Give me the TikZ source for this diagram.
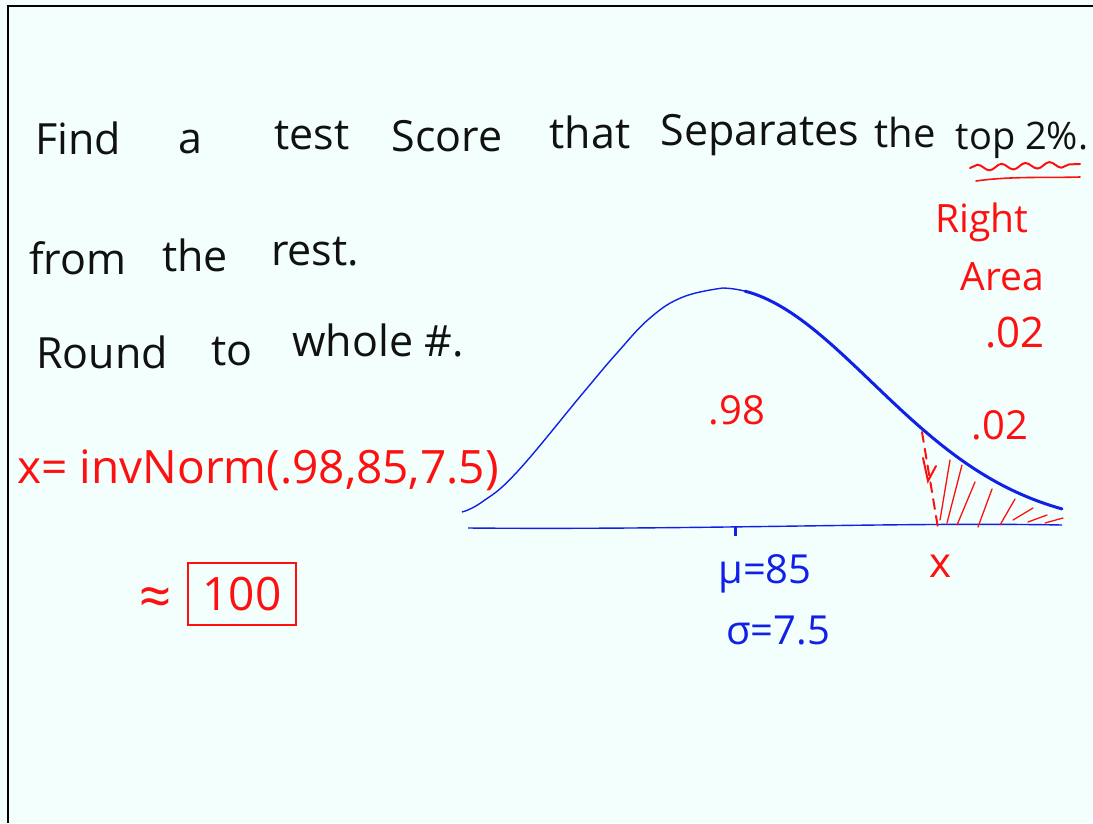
\documentclass[tikz,border=0pt]{standalone}
\usepackage{fontspec}
\setmainfont{Open Sans}
\usetikzlibrary{decorations.pathmorphing}
\definecolor{bg}{HTML}{F2FFFC}
\definecolor{ink}{HTML}{111111}
\definecolor{pen}{HTML}{FF1010}
\definecolor{bpen}{HTML}{1020E6}
\tikzset{
  blk/.style={text=ink, font=\fontsize{43}{46}\selectfont, inner sep=0pt},
  redt/.style={text=pen, font=\fontsize{39}{42}\selectfont, inner sep=0pt},
  bluet/.style={text=bpen, font=\fontsize{40}{44}\selectfont, inner sep=0pt},
  redline/.style={draw=pen, line width=2pt, line cap=round},
  hatch/.style={draw=pen, line width=1.3pt, line cap=round},
  curvethin/.style={draw=bpen, line width=1.4pt},
  curvethick/.style={draw=bpen, line width=3pt, line cap=round},
}
\begin{document}
\begin{tikzpicture}[x=1pt,y=-1pt]
\useasboundingbox (0,0) rectangle (1093,823);
\fill[bg] (0,0) rectangle (1093,823);
% frame
\draw[black, line width=2.5pt] (8,823) -- (8,6) -- (1093,6);

% line 1
\node[blk] (w1) at (78,138) {Find};
\node[blk] (w2) at (190,142) {a};
\node[blk] (w3) at (312,136) {test};
\node[blk] (w4) at (447,136) {Score};
\node[blk] (w5) at (590,132) {that};
\node[blk] (w6) at (760,135) {Separates};
\node[blk, font=\fontsize{40}{44}\selectfont] (w7) at (905,132) {the};
\node[blk, font=\fontsize{38}{42}\selectfont] (w8) at (1022,140) {top 2\%.};
% wavy underline
\draw[redline, decorate, decoration={snake, amplitude=3pt, segment length=24pt}] (970,168) -- (1080,164);
\draw[redline, line width=1.6pt] (976,181) .. controls (1010,176) and (1050,178) .. (1080,177);

% line 2
\node[blk] (w9) at (78,258) {from};
\node[blk] (w10) at (195,255) {the};
\node[blk] (w11) at (315,252) {rest.};
% line 3
\node[blk] (w12) at (102,352) {Round};
\node[blk] (w13) at (232,352) {to};
\node[blk] (w14) at (378,340) {whole \#.};

% right annotations
\node[redt] (r1) at (982,222) {Right};
\node[redt] (r2) at (1002,277) {Area};
\node[redt, font=\fontsize{42}{44}\selectfont] (r3) at (1015,333) {.02};

% axis
\draw[curvethin] (468,528) .. controls (700,530) and (900,522) .. (1062,525);
\draw[bpen, line width=3pt] (735,527) -- (735,536);
% bell curve
\draw[curvethin] plot[smooth, tension=0.7] coordinates {(462,512) (482,502) (517,472) (583,393) (617,353) (650,318) (683,297) (723,288)};
\draw[curvethin] plot[domain=723:745, samples=8, smooth] (\x, {528-240*exp(-((\x-720)/152)^2/2)});
\draw[curvethick] plot[domain=745:1062, samples=60, smooth] (\x, {528-240*exp(-((\x-720)/152)^2/2)});

% hatching
\draw[hatch] (940,520) -- (950,460);
\draw[hatch] (947,523) -- (962,465);
\draw[hatch] (957,525) -- (975,482);
\draw[hatch] (978,527) -- (992,489);
\draw[hatch] (1000,525) -- (1015,499);
\draw[hatch] (1013,520) -- (1033,508);
\draw[hatch] (1028,522) -- (1047,515);
\draw[hatch] (1045,523) -- (1063,518);
% dashed drop line with arrow
\draw[redline, dash pattern=on 10pt off 7pt] (922,432) -- (938,528);
\draw[redline] (923,458) -- (928,481) -- (936,466);

\node[redt, font=\fontsize{40}{44}\selectfont] (p98) at (737,410) {.98};
\node[redt, font=\fontsize{40}{44}\selectfont] (p02) at (1000,425) {.02};
\node[redt, font=\fontsize{42}{44}\selectfont] (xl) at (940,566) {x};

% mean and sd
\node[bluet] (mu) at (765,574) {μ=85};
\node[bluet] (sg) at (778,630) {σ=7.5};

% formula
\node[redt, font=\fontsize{46}{50}\selectfont] (f) at (258,470) {x= invNorm(.98,85,7.5)};
\node[redt, font=\fontsize{56}{60}\selectfont] (ap) at (156,602) {≈};
\node[redt, draw=pen, line width=2pt, font=\fontsize{46}{50}\selectfont, inner sep=6pt, minimum width=108pt, minimum height=62pt] (ans) at (242,594) {100};
\end{tikzpicture}
\end{document}
